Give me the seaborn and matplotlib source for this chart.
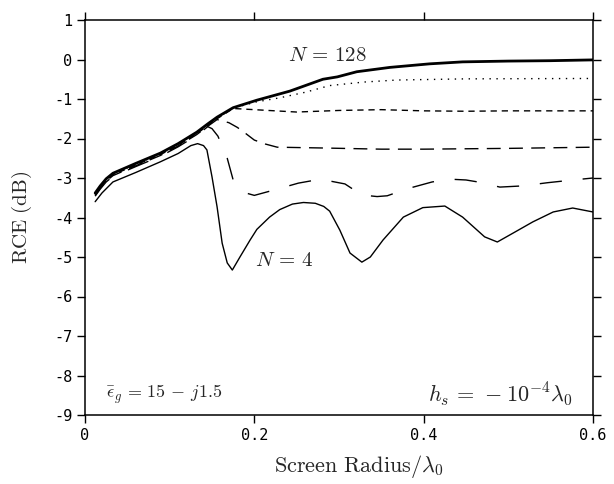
import matplotlib
matplotlib.use("Agg")
import matplotlib.pyplot as plt
import seaborn as sns
import pandas as pd

# ---- data ----
x_bundle = [0.012, 0.018, 0.025, 0.033, 0.06, 0.089, 0.11, 0.132]
y_bundle128 = [-3.38, -3.20, -3.02, -2.88, -2.63, -2.37, -2.13, -1.84]

n128_x = x_bundle + [0.145, 0.156, 0.175, 0.203, 0.242, 0.281, 0.298, 0.321, 0.36, 0.407, 0.446, 0.5, 0.55, 0.6]
n128_y = y_bundle128 + [-1.63, -1.46, -1.22, -1.03, -0.80, -0.50, -0.44, -0.31, -0.20, -0.11, -0.06, -0.04, -0.03, -0.01]

n64_x = x_bundle + [0.145, 0.156, 0.175, 0.203, 0.23, 0.26, 0.289, 0.33, 0.368, 0.45, 0.6]
n64_y = [-3.40, -3.22, -3.04, -2.90, -2.65, -2.39, -2.15, -1.86,
         -1.65, -1.48, -1.23, -1.07, -0.97, -0.83, -0.66, -0.57, -0.52, -0.49, -0.48]

n32_x = x_bundle + [0.145, 0.156, 0.175, 0.2, 0.25, 0.3, 0.35, 0.4, 0.45, 0.5, 0.6]
n32_y = [-3.42, -3.24, -3.06, -2.92, -2.67, -2.41, -2.17, -1.88,
         -1.67, -1.50, -1.24, -1.27, -1.33, -1.29, -1.27, -1.30, -1.31, -1.30, -1.30]

n16_x = x_bundle + [0.145, 0.156, 0.17, 0.18, 0.189, 0.2, 0.213, 0.227, 0.28, 0.35, 0.4, 0.5, 0.6]
n16_y = [-3.44, -3.26, -3.08, -2.94, -2.69, -2.43, -2.19, -1.90,
         -1.69, -1.52, -1.60, -1.72, -1.86, -2.04, -2.14, -2.22, -2.24, -2.27, -2.27, -2.25, -2.22]

n8_x = x_bundle + [0.145, 0.15, 0.157, 0.168, 0.175, 0.19, 0.2, 0.224, 0.252, 0.278, 0.307,
                   0.327, 0.345, 0.357, 0.381, 0.41, 0.431, 0.45, 0.464, 0.49, 0.517, 0.546, 0.572, 0.6]
n8_y = [-3.46, -3.28, -3.10, -2.96, -2.71, -2.45, -2.21, -1.92,
        -1.70, -1.75, -1.94, -2.50, -3.05, -3.38, -3.44, -3.30, -3.13, -3.03, -3.15,
        -3.43, -3.47, -3.45, -3.27, -3.10, -3.03, -3.05, -3.10, -3.23, -3.20, -3.12, -3.06, -3.00]

n4_x = [0.012, 0.02, 0.033, 0.06, 0.089, 0.11, 0.125, 0.133, 0.14, 0.144, 0.15, 0.156, 0.162,
        0.168, 0.174, 0.183, 0.195, 0.203, 0.218, 0.23, 0.245, 0.258, 0.272, 0.282, 0.289, 0.301, 0.313,
        0.327, 0.337, 0.352, 0.376, 0.399, 0.425, 0.446, 0.472, 0.487, 0.506, 0.529, 0.553,
        0.576, 0.6]
n4_y = [-3.60, -3.38, -3.10, -2.86, -2.59, -2.38, -2.18, -2.13, -2.18, -2.29, -2.97, -3.73,
        -4.65, -5.15, -5.33, -5.00, -4.57, -4.30, -3.99, -3.80, -3.66, -3.62, -3.64, -3.72, -3.84, -4.32,
        -4.90, -5.13, -5.00, -4.57, -3.99, -3.75, -3.71, -3.99, -4.49, -4.62, -4.39, -4.11,
        -3.86, -3.76, -3.86]

x_ticks = [0, 0.2, 0.4, 0.6]
x_tick_labels = ["0", "0.2", "0.4", "0.6"]
y_ticks = [1, 0, -1, -2, -3, -4, -5, -6, -7, -8, -9]
y_tick_labels = ["1", "0", "-1", "-2", "-3", "-4", "-5", "-6", "-7", "-8", "-9"]

series = [
    ("128", n128_x, n128_y, "-", 2.0),
    ("64", n64_x, n64_y, (0, (1, 4)), 1.0),
    ("32", n32_x, n32_y, (0, (4.5, 3.5)), 1.0),
    ("16", n16_x, n16_y, (0, (10, 6)), 1.0),
    ("8", n8_x, n8_y, (0, (16, 15)), 1.0),
    ("4", n4_x, n4_y, "-", 1.0),
]

# ---- style ----
sns.set_style("ticks")
plt.rcParams["font.family"] = ["DejaVu Sans Mono", "DejaVu Sans"]
plt.rcParams["mathtext.fontset"] = "cm"

fig = plt.figure(figsize=(6.14, 4.84), dpi=100)
ax = fig.add_axes([85 / 614, 1 - 415 / 484, (593 - 85) / 614, (415 - 20) / 484])

for name, xs, ys, ls, lw in series:
    df = pd.DataFrame({"x": xs, "y": ys})
    sns.lineplot(data=df, x="x", y="y", ax=ax, color="black", linewidth=lw,
                 linestyle=ls, legend=False)

ax.set_xlim(0, 0.6)
ax.set_ylim(-9, 1)
ax.set_xticks(x_ticks)
ax.set_xticklabels(x_tick_labels)
ax.set_yticks(y_ticks)
ax.set_yticklabels(y_tick_labels)
ax.tick_params(direction="out", length=6, width=1.0, labelsize=11, pad=3,
               top=True, right=True, colors="black")
for sp in ax.spines.values():
    sp.set_linewidth(1.1)
    sp.set_color("black")

ax.set_xlabel(r"$\mathrm{Screen\ Radius}/\lambda_0$", fontsize=16)
ax.set_ylabel(r"$\mathrm{RCE\ (dB)}$", fontsize=15)
ax.xaxis.set_label_coords(0.54, -0.095)
ax.yaxis.set_label_coords(-0.10, 0.5)

ax.text(0.286, 0.12, r"$N\,=\,128$", fontsize=15, ha="center", va="center")
ax.text(0.235, -5.08, r"$N\,=\,4$", fontsize=15, ha="center", va="center")
ax.text(0.025, -8.47, r"$\bar{\epsilon}_g\,=\,15\,-\,j1.5$", fontsize=13, ha="left", va="center")
ax.text(0.576, -8.47, r"$h_s\,=\,-10^{-4}\lambda_0$", fontsize=16, ha="right", va="center")

fig.savefig("out.png", dpi=100)
